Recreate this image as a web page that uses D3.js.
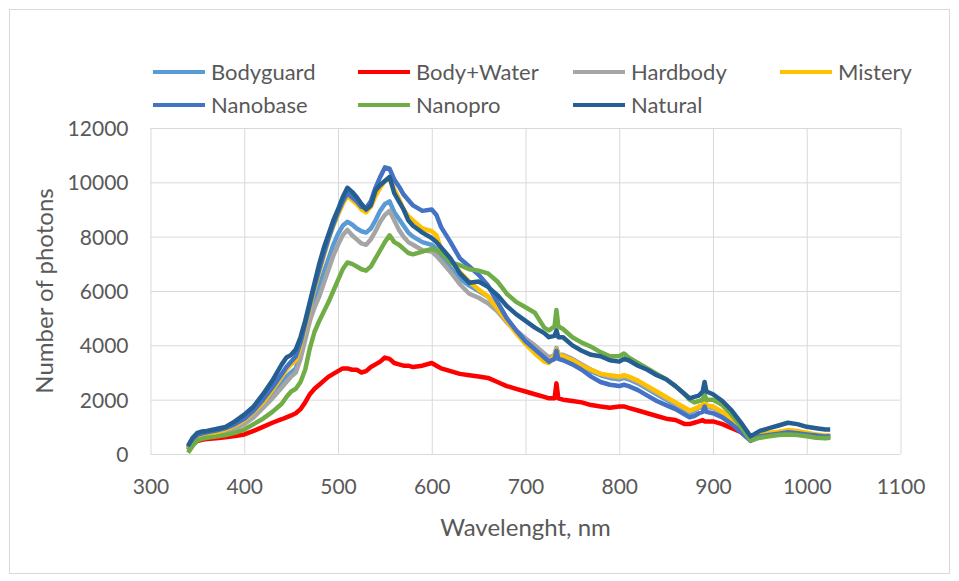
<!DOCTYPE html>
<html><head><meta charset="utf-8">
<script src="https://cdn.jsdelivr.net/npm/d3@7/dist/d3.min.js"></script>
<style>
body{margin:0;background:#fff}
text{font-family:Lato,'Open Sans',sans-serif;fill:#595959}
</style>
</head><body>
<svg id="chart" width="959" height="581"></svg>
<script>
// ---- data ----
const wavelengths = [340,345,350,355,360,370,380,390,400,410,
420,430,440,445,450,455,460,465,470,475,
480,485,490,495,500,505,510,515,520,525,
530,535,540,545,550,555,560,565,570,575,
580,590,600,605,610,620,630,640,650,660,
670,680,690,700,710,720,725,731,733,735,
740,750,760,770,780,790,800,805,810,820,
830,840,850,860,870,875,880,885,889,891,
893,900,910,920,930,935,940,945,950,960,
970,980,990,1000,1010,1020,1025];

const bodyguard = [200,450,600,650,680,750,850,950,1150,1400,
1750,2150,2600,2850,3000,3150,3700,4400,5100,5700,
6200,6700,7200,7700,8100,8400,8550,8450,8300,8200,
8150,8300,8600,8950,9200,9300,8900,8650,8400,8150,
8000,7800,7700,7550,7300,6850,6450,6200,6000,5800,
5400,4950,4550,4250,3950,3650,3500,3650,3900,3650,
3600,3450,3250,3050,2900,2800,2750,2800,2750,2600,
2400,2200,2000,1800,1600,1500,1600,1700,1750,1950,
1750,1700,1500,1200,850,650,500,600,700,750,
800,850,800,750,700,650,650];

const bodyWater = [150,350,480,520,550,580,620,660,720,850,
1000,1150,1280,1350,1420,1500,1650,1900,2200,2400,
2550,2700,2850,2950,3050,3150,3150,3100,3100,3000,
3050,3200,3300,3400,3550,3500,3350,3300,3250,3250,
3200,3250,3350,3250,3150,3050,2950,2900,2850,2800,
2650,2500,2400,2300,2200,2100,2050,2050,2600,2050,
2000,1950,1900,1800,1750,1700,1750,1750,1700,1600,
1500,1400,1300,1250,1100,1100,1150,1200,1250,1200,
1200,1200,1100,950,800,650,550,600,650,700,
750,780,750,720,680,650,650];

const hardbody = [180,420,580,630,660,720,820,930,1100,1350,
1700,2050,2450,2650,2850,3000,3500,4200,4900,5400,
5800,6300,6800,7300,7700,8050,8250,8050,7900,7750,
7700,7900,8200,8550,8800,8950,8600,8250,8000,7800,
7700,7500,7450,7300,7100,6700,6250,5900,5750,5550,
5250,4850,4500,4250,4000,3700,3550,3650,3900,3650,
3650,3500,3300,3100,2950,2850,2800,2850,2800,2650,
2450,2250,2050,1850,1650,1550,1650,1700,1750,1950,
1750,1700,1500,1250,900,700,520,600,680,740,
780,820,780,720,680,640,640];

const mistery = [220,480,650,700,730,800,900,1050,1250,1550,
1900,2350,2850,3100,3300,3450,4000,4700,5400,6100,
6700,7300,7900,8400,8800,9200,9500,9350,9200,9000,
8900,9100,9500,9800,10050,10150,9750,9400,9000,8750,
8600,8300,8200,8050,7550,7100,6700,6350,6050,5800,
5350,4900,4450,4050,3700,3400,3350,3650,3850,3650,
3600,3450,3250,3100,2950,2900,2850,2900,2850,2700,
2500,2300,2100,1900,1700,1600,1650,1750,1800,1950,
1800,1750,1550,1250,900,700,520,620,720,780,
820,880,850,780,720,680,680];

const nanobase = [250,520,700,760,800,860,950,1100,1300,1600,
2000,2450,2950,3200,3400,3600,4100,4800,5500,6200,
6800,7400,7950,8450,8900,9300,9600,9450,9300,9100,
9050,9300,9800,10200,10550,10500,10100,9850,9550,9350,
9150,8950,9000,8800,8350,7800,7200,6900,6600,6200,
5600,5000,4550,4150,3850,3550,3400,3500,3800,3500,
3450,3300,3100,2850,2650,2550,2500,2550,2500,2350,
2150,1950,1800,1650,1450,1350,1400,1500,1550,1750,
1550,1500,1350,1100,800,650,480,560,650,700,
750,800,760,720,680,640,650];

const nanopro = [50,300,500,560,600,640,700,780,900,1100,
1300,1550,1850,2100,2300,2400,2650,3100,3900,4500,
4900,5250,5600,6000,6400,6800,7050,7000,6900,6800,
6750,6900,7200,7500,7800,8050,7800,7700,7550,7400,
7350,7450,7550,7500,7400,7050,6950,6800,6750,6650,
6350,5900,5600,5400,5200,4650,4550,4700,5300,4700,
4600,4300,4100,3950,3750,3600,3600,3700,3550,3350,
3150,2950,2750,2500,2200,2000,1900,1950,2000,2200,
2000,2000,1800,1450,1000,750,500,550,600,650,
700,720,700,650,600,580,600];

const natural = [300,600,780,830,850,920,1000,1200,1450,1750,
2200,2700,3300,3550,3650,3850,4300,4900,5600,6300,
7000,7600,8100,8600,9000,9450,9800,9650,9450,9200,
9000,9150,9700,9900,10050,10200,9600,9300,9000,8600,
8400,8150,7950,7800,7600,7200,6650,6300,6350,6150,
5850,5450,5150,4900,4650,4450,4300,4350,4550,4300,
4300,4000,3800,3650,3600,3450,3400,3500,3450,3250,
3100,2900,2750,2500,2200,2050,2100,2150,2300,2650,
2300,2200,1950,1600,1150,900,650,750,850,950,
1050,1150,1100,1000,950,900,900];

const seriesNames = ["Bodyguard","Body+Water","Hardbody","Mistery","Nanobase","Nanopro","Natural"];
const seriesColors = ["#5B9BD5","#FF0000","#A5A5A5","#FFC000","#4472C4","#70AD47","#255E91"];
const seriesValues = [bodyguard, bodyWater, hardbody, mistery, nanobase, nanopro, natural];

const xTicks = [300,400,500,600,700,800,900,1000,1100];
const yTicks = [0,2000,4000,6000,8000,10000,12000];
const xTitle = "Wavelenght, nm";
const yTitle = "Number of photons";

// ---- drawing ----
const svg = d3.select("#chart");
const L = 150.5, R = 900.5, T = 128, B = 454;
const x = d3.scaleLinear().domain([300,1100]).range([L,R]);
const y = d3.scaleLinear().domain([0,12000]).range([B,T]);

svg.append("rect").attr("x",0).attr("y",0).attr("width",959).attr("height",581).attr("fill","#fff");
svg.append("rect").attr("x",9.5).attr("y",9.5).attr("width",940).attr("height",564)
  .attr("fill","none").attr("stroke","#d9d9d9").attr("stroke-width",1);

const gy = svg.append("g").attr("transform",`translate(${L},0)`)
  .call(d3.axisLeft(y).tickValues(yTicks).tickSize(-(R-L)).tickPadding(22).tickFormat(d3.format("d")));
gy.select(".domain").remove();
gy.selectAll("line").attr("stroke","#d9d9d9");
gy.selectAll("text").style("font-size","21px").attr("fill","#595959").attr("dy","0.35em");

const gx = svg.append("g").attr("transform",`translate(0,${B})`)
  .call(d3.axisBottom(x).tickValues(xTicks).tickSize(-(B-T)).tickPadding(25).tickFormat(d3.format("d")));
gx.select(".domain").remove();
gx.selectAll("line").attr("stroke","#d9d9d9");
gx.selectAll("text").style("font-size","21px").attr("fill","#595959");

svg.append("text").attr("x",(L+R)/2).attr("y",536).attr("text-anchor","middle")
  .style("font-size","24px").text(xTitle);
svg.append("text").attr("transform",`translate(53,${(T+B)/2}) rotate(-90)`).attr("text-anchor","middle")
  .style("font-size","24px").text(yTitle);

const line = d3.line().x(d=>x(d[0])).y(d=>y(d[1]));
svg.append("g").selectAll("path").data(seriesValues).join("path")
  .attr("d", vals => line(vals.map((v,i)=>[wavelengths[i], v])))
  .attr("fill","none")
  .attr("stroke",(d,i)=>seriesColors[i])
  .attr("stroke-width",4.5)
  .attr("stroke-linejoin","round");

// legend
const legX = [153,358,573,780];
const legY = [72,105];
const leg = svg.append("g").selectAll("g").data(seriesNames).join("g")
  .attr("transform",(d,i)=>`translate(${legX[i%4]},${legY[Math.floor(i/4)]})`);
leg.append("line").attr("x1",0).attr("x2",52).attr("y1",0).attr("y2",0)
  .attr("stroke",(d,i)=>seriesColors[i]).attr("stroke-width",4);
leg.append("text").attr("x",58).attr("dy","0.35em").style("font-size","22px").text(d=>d);
</script>
</body></html>
